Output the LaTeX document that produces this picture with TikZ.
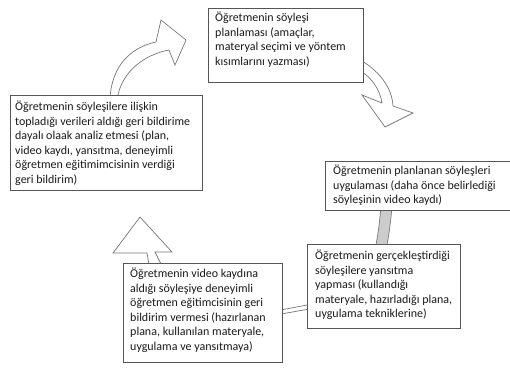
\documentclass[tikz,border=0pt]{standalone}
\usepackage{fontspec}
\setmainfont{Carlito}
\definecolor{boxgray}{HTML}{555555}
\definecolor{arrowgray}{HTML}{777777}
\definecolor{bandgray}{HTML}{CCCCCC}
\definecolor{textcol}{HTML}{1A1A1A}
\begin{document}
\begin{tikzpicture}[x=1pt,y=-1pt,
  box/.style={draw=boxgray, fill=white, line width=0.9pt, inner sep=0pt, anchor=north west},
  txt/.style={anchor=north west, inner sep=0pt, align=left, font=\fontsize{12}{14.5}\selectfont, text=textcol},
  blockarrow/.style={draw=arrowgray, line width=0.7pt, fill=white, line join=miter},
  grayband/.style={draw=arrowgray, line width=0.7pt, fill=bandgray}]
\useasboundingbox (0,0) rectangle (510,370);

% connectors (block arrows) behind the boxes
\draw[blockarrow] (110,100) .. controls (111,65) and (132,47) .. (156,42) -- (161,20) -- (186,40) -- (175,65) -- (169,50) .. controls (147,54) and (121,70) .. (117,100) -- cycle;
\draw[blockarrow] (355,57) .. controls (380,70) and (392,88) .. (393,106) -- (413,113) -- (385,127) -- (362,95) -- (382,103) .. controls (380,90) and (372,76) .. (355,68) -- cycle;
\draw[grayband] (381,205) .. controls (380,220) and (378,235) .. (375,250) -- (386,250) .. controls (389,235) and (391,220) .. (392,205) -- cycle;
\draw[blockarrow] (270,312) -- (315,303.5) -- (315,308) -- (270,316) -- cycle;
\draw[blockarrow] (150,270) -- (147,253) -- (113,253) -- (140,217) -- (172,252) -- (155,252) -- (164,270) -- cycle;

% boxes
\node[box, minimum width=192pt, minimum height=95pt] (b1) at (10,95) {};
\node[box, minimum width=155pt, minimum height=74pt] (b2) at (208,8) {};
\node[box, minimum width=200pt, minimum height=49pt] (b3) at (325,161) {};
\node[box, minimum width=153pt, minimum height=84pt] (b4) at (307,244) {};
\node[box, minimum width=159pt, minimum height=99pt] (b5) at (123,263) {};

% texts
\node[txt] (t1) at ([xshift=5pt,yshift=-6pt]b1.north west) {Öğretmenin söyleşilere ilişkin\\topladığı verileri aldığı geri bildirime\\dayalı olaak analiz etmesi (plan,\\video kaydı, yansıtma, deneyimli\\öğretmen eğitimimcisinin verdiği\\geri bildirim)};
\node[txt] (t2) at ([xshift=7pt,yshift=-4pt]b2.north west) {Öğretmenin söyleşi\\planlaması (amaçlar,\\materyal seçimi ve yöntem\\kısımlarını yazması)};
\node[txt] (t3) at ([xshift=8pt,yshift=-4pt]b3.north west) {Öğretmenin planlanan söyleşleri\\uygulaması (daha önce belirlediği\\söyleşinin video kaydı)};
\node[txt] (t4) at ([xshift=8pt,yshift=-6pt]b4.north west) {Öğretmenin gerçekleştirdiği\\söyleşilere yansıtma\\yapması (kullandığı\\materyale, hazırladığı plana,\\uygulama tekniklerine)};
\node[txt] (t5) at ([xshift=7pt,yshift=-5pt]b5.north west) {Öğretmenin video kaydına\\aldığı söyleşiye deneyimli\\öğretmen eğitimcisinin geri\\bildirim vermesi (hazırlanan\\plana, kullanılan materyale,\\uygulama ve yansıtmaya)};
\end{tikzpicture}
\end{document}
